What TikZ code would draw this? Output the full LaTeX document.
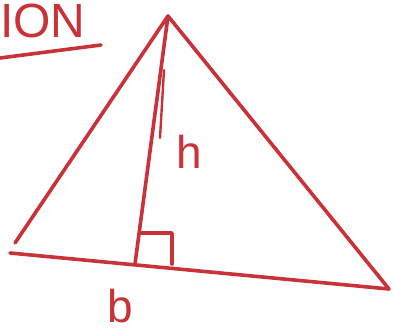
\documentclass[tikz,border=0pt]{standalone}
\usepackage{fontspec}
\setsansfont{Liberation Sans}
\usepackage{tikz}
\usetikzlibrary{positioning}
\usepackage{xcolor}
\definecolor{penred}{RGB}{200,50,56}

\begin{document}
\begin{tikzpicture}[x=1pt, y=-1pt, pen/.style={draw=penred, line width=3.6pt, line cap=round, line join=round},
    hand/.style={text=penred, inner sep=0pt, font=\sffamily\fontsize{46}{46}\selectfont}]
    \useasboundingbox (0,0) rectangle (394,332);
    \clip (0,0) rectangle (394,332);

    \coordinate (apex) at (168,16);
    \coordinate (lefttip) at (15,243);
    \coordinate (baseleft) at (10,253);
    \coordinate (right) at (389,289);
    \coordinate (foot) at (135,264);

    % heading at the top left
    \node[hand, anchor=west, font=\sffamily\fontsize{48}{48}\selectfont] (title) at (0,21) {ION};
    \coordinate (ulstart) at (0,58);
    \coordinate (ulend) at (101,45);
    \draw[pen] (ulstart) -- (ulend);

    % sides of the triangle
    \draw[pen] (apex) -- (lefttip);
    \draw[pen] (apex) -- (right);
    \draw[pen] (baseleft) -- (right);

    % height, drawn twice near the top
    \draw[pen] (apex) -- (foot);
    \coordinate (extra1) at (164,70);
    \coordinate (extra2) at (160,138);
    \draw[pen, line width=2.4pt] (extra1) -- (extra2);

    % right angle mark
    \coordinate (box1) at (141,233);
    \coordinate (box2) at (172,233);
    \coordinate (box3) at (172,264);
    \draw[pen] (box1) -- (box2) -- (box3);

    % labels
    \node[hand] (h) at (189,152) {h};
    \node[hand] (b) at (120,306) {b};
\end{tikzpicture}
\end{document}
